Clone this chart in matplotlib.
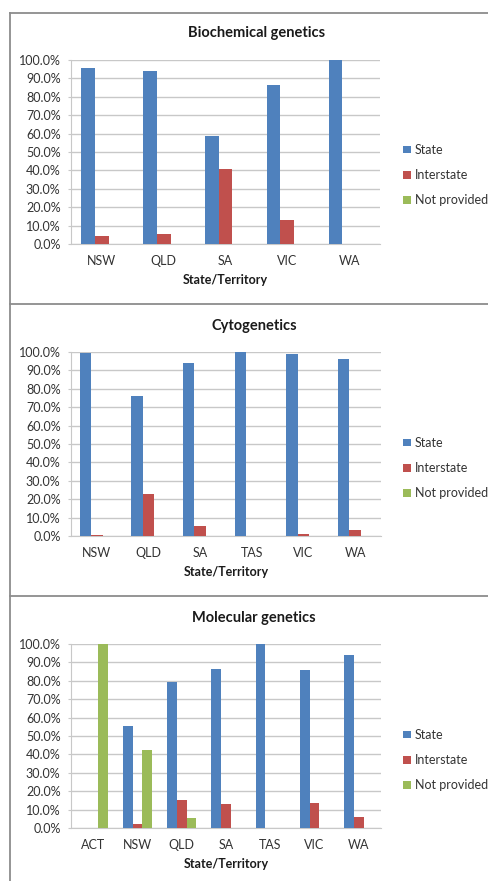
import numpy as np
import matplotlib
matplotlib.use("Agg")
import matplotlib.pyplot as plt
from matplotlib.ticker import PercentFormatter
from matplotlib.lines import Line2D

plt.rcParams['font.family'] = ['Lato', 'DejaVu Sans']

# Porcentaje de pruebas por estado: realizadas en el estado, interestatal, no indicado
bio_estados = ["NSW", "QLD", "SA", "VIC", "WA"]
bio_state = [95.5, 94.0, 58.8, 86.6, 100.0]
bio_inter = [4.4, 5.6, 41.0, 13.2, 0.0]
bio_np = [0.0, 0.0, 0.0, 0.0, 0.0]

cyto_estados = ["NSW", "QLD", "SA", "TAS", "VIC", "WA"]
cyto_state = [99.5, 76.2, 94.0, 100.0, 98.7, 96.2]
cyto_inter = [0.5, 23.0, 5.6, 0.0, 1.3, 3.4]
cyto_np = [0.0, 0.0, 0.0, 0.0, 0.0, 0.0]

mol_estados = ["ACT", "NSW", "QLD", "SA", "TAS", "VIC", "WA"]
mol_state = [0.0, 55.2, 79.1, 86.2, 100.0, 85.8, 94.0]
mol_inter = [0.0, 2.2, 15.4, 13.2, 0.0, 13.6, 5.8]
mol_np = [100.0, 42.5, 5.3, 0.0, 0.0, 0.0, 0.0]

series = ["State", "Interstate", "Not provided"]
colores = ["#4F81BD", "#C0504D", "#9BBB59"]

W, H = 488, 881
fig = plt.figure(figsize=(W / 100, H / 100), dpi=100)


def caja(x0, x1, y0, y1):
    # rectangulo en pixeles (desde arriba) -> fracciones de figura
    return [x0 / W, 1 - y1 / H, (x1 - x0) / W, (y1 - y0) / H]


def grafica(pos, titulo, estados, datos, titulo_xy, leyenda_y):
    ax = fig.add_axes(caja(*pos))
    x = np.arange(len(estados))
    ancho = 1 / 4.5
    for i, (vals, nombre, c) in enumerate(zip(datos, series, colores)):
        ax.bar(x + (i - 1) * ancho, vals, ancho, color=c, label=nombre, zorder=3)
    ax.set_xlim(-0.5, len(estados) - 0.5)
    ax.set_ylim(0, 100)
    ax.set_yticks(np.arange(0, 101, 10))
    ax.yaxis.set_major_formatter(PercentFormatter(xmax=100, decimals=1))
    ax.set_xticks(x)
    ax.set_xticklabels(estados)
    ax.grid(axis="y", color="#c8c8c8", linewidth=1, zorder=0)
    for lado in ["top", "right"]:
        ax.spines[lado].set_visible(False)
    for lado in ["left", "bottom"]:
        ax.spines[lado].set_color("#c8c8c8")
    ax.tick_params(axis="y", length=2.5, color="#c8c8c8", pad=5, labelsize=9, labelcolor="#333333")
    ax.tick_params(axis="x", length=0, pad=8, labelsize=9, labelcolor="#333333")
    ax.set_xlabel("State/Territory", fontsize=9, fontweight="bold", labelpad=5, color="#1a1a1a")
    fig.text(titulo_xy[0] / W, 1 - titulo_xy[1] / H, titulo, fontsize=10.5, fontweight="bold",
             ha="center", va="center", color="#1a1a1a")
    ax.legend(loc="center left", bbox_to_anchor=(398 / W, 1 - leyenda_y / H),
              bbox_transform=fig.transFigure, frameon=False, fontsize=9,
              handlelength=0.6, handleheight=0.6, handletextpad=0.35,
              labelspacing=1.05, borderaxespad=0, labelcolor="#333333")
    return ax


grafica((71, 380, 60, 244), "Biochemical genetics", bio_estados,
        [bio_state, bio_inter, bio_np], (257, 33), 175)
grafica((71, 381, 352, 536), "Cytogenetics", cyto_estados,
        [cyto_state, cyto_inter, cyto_np], (254, 326), 468)
grafica((71, 381, 644, 828), "Molecular genetics", mol_estados,
        [mol_state, mol_inter, mol_np], (254, 618), 760)

# marcos de cada panel
borde = dict(color="#8c8c8c", linewidth=1.3, transform=fig.transFigure)
for yy in [13, 304, 596]:
    fig.add_artist(Line2D([9.5 / W, 1], [1 - yy / H, 1 - yy / H], **borde))
fig.add_artist(Line2D([9.5 / W, 9.5 / W], [1 - 13 / H, 0], **borde))

fig.savefig("out.png", dpi=100)
